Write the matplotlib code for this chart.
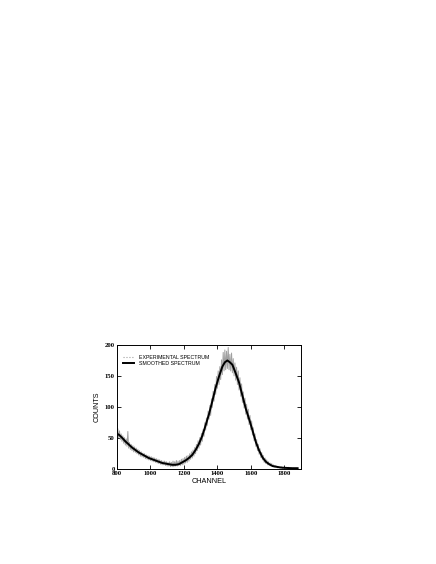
import matplotlib.pyplot as plt
from matplotlib.lines import Line2D

# experimental spectrum, read every 5 channels
exp_channel = list(range(805, 1885, 5))
exp_counts = [64, 50, 61, 47, 56, 44, 53, 41, 50, 38,
              48, 36, 60, 33, 42, 31, 39, 29, 37, 27,
              35, 26, 33, 24, 31, 22, 29, 20, 27, 19,
              25, 18, 24, 16, 22, 15, 21, 14, 20, 13,
              19, 12, 18, 11, 17, 10, 16, 9, 15, 8,
              14, 7, 13, 6, 12, 6, 12, 5, 11, 4,
              10, 4, 11, 3, 10, 3, 12, 3, 11, 4,
              13, 4, 12, 5, 13, 5, 15, 6, 16, 7,
              18, 9, 20, 10, 21, 12, 24, 15, 27, 17,
              30, 20, 34, 24, 39, 29, 45, 33, 50, 38,
              57, 44, 63, 52, 74, 62, 82, 70, 93, 80,
              102, 86, 113, 99, 125, 109, 136, 120, 149, 130,
              158, 136, 165, 144, 176, 152, 188, 158, 192, 160,
              190, 162, 196, 160, 185, 158, 187, 155, 178, 150,
              171, 143, 164, 136, 158, 127, 147, 117, 137, 107,
              124, 98, 114, 88, 104, 80, 96, 71, 86, 63,
              77, 54, 66, 45, 56, 36, 47, 29, 39, 23,
              32, 18, 26, 14, 21, 10, 17, 8, 14, 6,
              11, 5, 9, 4, 8, 3, 6, 2, 5, 2,
              4, 1, 3, 1, 3, 1, 3, 0, 2, 0,
              2, 0, 2, 0, 2, 0, 1, 0, 1, 0,
              1, 0, 1, 0, 1, 0]

# smoothed spectrum
smooth_channel = [810, 830, 850, 870, 890, 910, 930, 950, 970, 990,
                  1010, 1030, 1050, 1070, 1090, 1110, 1130, 1150, 1170, 1190,
                  1210, 1230, 1250, 1270, 1290, 1310, 1330, 1350, 1370, 1390,
                  1410, 1430, 1445, 1460, 1475, 1490, 1510, 1530, 1550, 1570,
                  1590, 1610, 1630, 1650, 1670, 1690, 1710, 1730, 1750, 1780,
                  1810, 1850, 1880]
smooth_counts = [55, 50, 44, 39, 34, 30, 26, 23, 20, 17,
                 15, 13, 11, 9, 8, 7, 6, 6, 7, 10,
                 13, 17, 22, 30, 40, 53, 70, 88, 109, 131,
                 149, 165, 172, 175, 172, 168, 154, 139, 118, 97,
                 80, 62, 43, 29, 18, 11, 7, 4, 3, 1.5,
                 1, 0.5, 0.5]

x_ticks = [800, 1000, 1200, 1400, 1600, 1800]
y_ticks = [0, 50, 100, 150, 200]

fig = plt.figure(figsize=(4.36, 5.64), dpi=100)
ax = fig.add_axes([0.2683, 0.1693, 0.422, 0.219])

ax.plot(exp_channel, exp_counts, color='#a0a0a0', linewidth=0.7)
ax.plot(smooth_channel, smooth_counts, color='black', linewidth=1.4)

ax.set_xlim(800, 1900)
ax.set_ylim(0, 200)
ax.set_xticks(x_ticks)
ax.set_yticks(y_ticks)
ax.tick_params(direction='in', length=3, width=0.6, top=True, right=True, pad=1.5)
for lab in ax.get_xticklabels() + ax.get_yticklabels():
    lab.set_fontfamily('Liberation Serif')
    lab.set_fontsize(4.8)
    lab.set_fontweight('bold')
for s in ax.spines.values():
    s.set_linewidth(0.7)

ax.set_xlabel('CHANNEL', fontfamily='Liberation Sans', fontsize=5.2, labelpad=1.5)
ax.set_ylabel('COUNTS', fontfamily='Liberation Sans', fontsize=5.2, labelpad=3)

handles = [Line2D([], [], color='#a0a0a0', linestyle=':', linewidth=0.8),
           Line2D([], [], color='black', linewidth=1.4)]
ax.legend(handles, ['EXPERIMENTAL SPECTRUM', 'SMOOTHED SPECTRUM'],
          loc='upper left', bbox_to_anchor=(0.02, 0.94), frameon=False,
          prop={'family': 'Liberation Sans', 'size': 3.8},
          handlelength=2.2, handletextpad=0.8, labelspacing=0.3, borderaxespad=0)

fig.savefig('out.png', dpi=100)
